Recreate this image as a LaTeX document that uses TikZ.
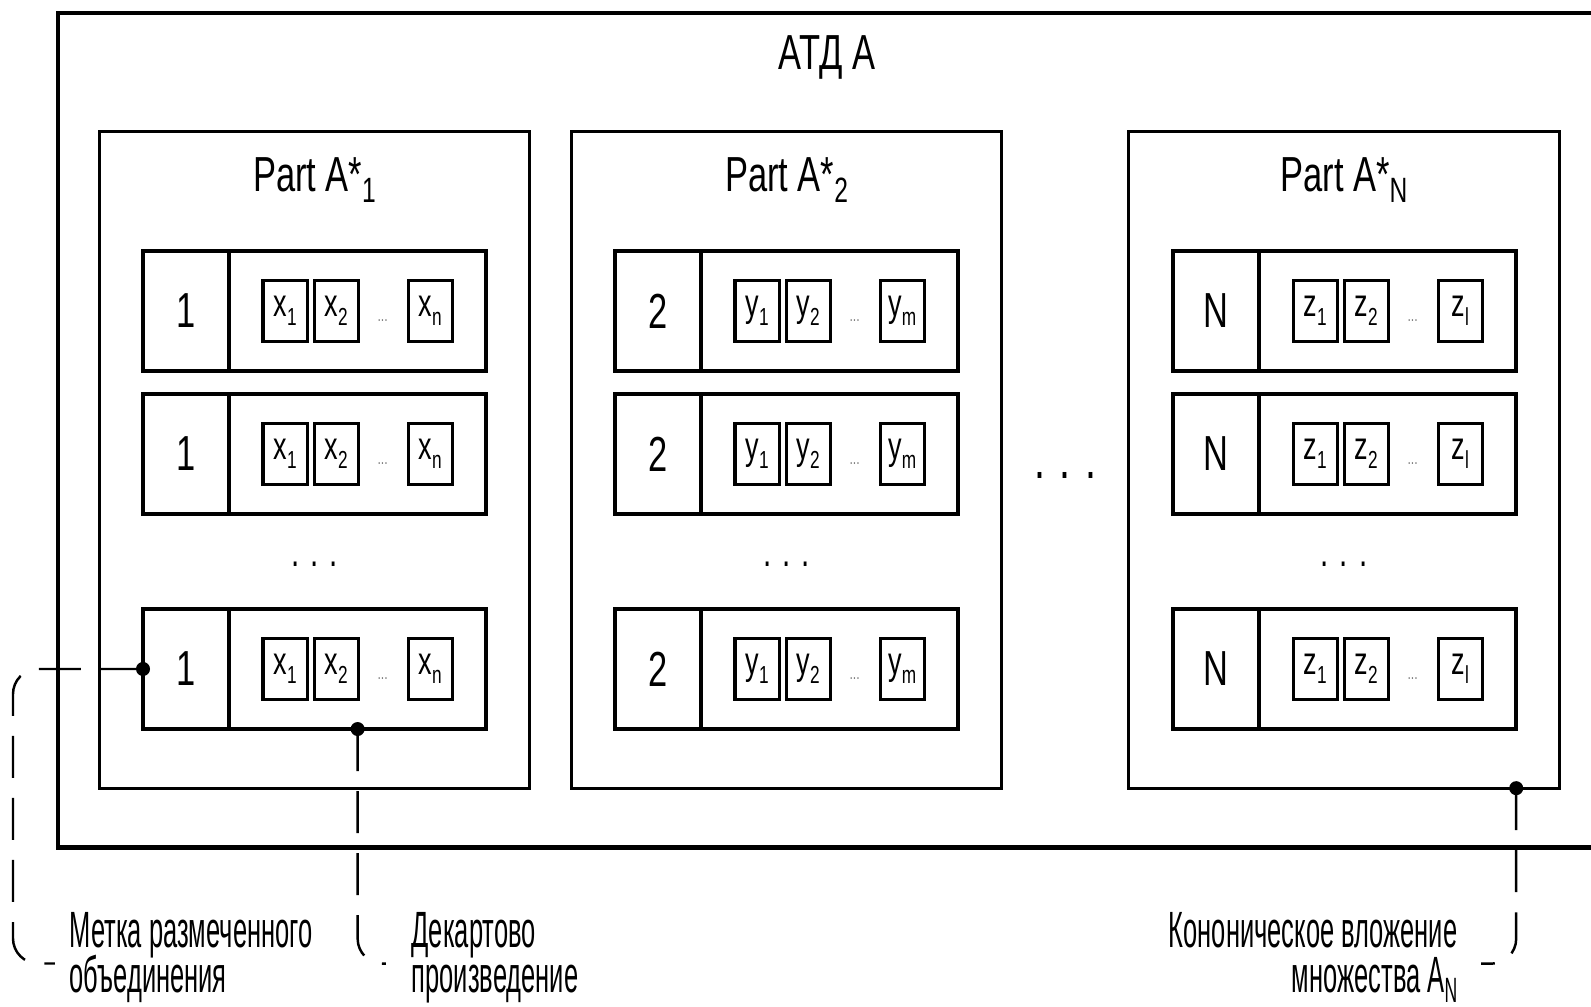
\documentclass[tikz,border=0pt]{standalone}
\usepackage{fontspec}
\setmainfont[FakeStretch=0.7]{Liberation Sans}
\newfontfamily\narrowfont[FakeStretch=0.5]{Liberation Sans}
\usepackage{tikz}
\usetikzlibrary{positioning}
\def\sublow#1{\raisebox{-3pt}{\fontsize{10}{10}\selectfont #1}}
\def\elemlbl#1#2{#1\raisebox{-2.5pt}{\fontsize{7}{7}\selectfont #2}}
\def\remarkfont{\narrowfont\fontsize{14.5}{12.6}\selectfont\lineskiplimit=-20pt\relax}
\tikzstyle{outerbox}=[draw,line width=1.2pt,inner sep=0,outer sep=0]
\tikzstyle{partbox}=[draw,line width=0.8pt,minimum width=4.30cm,minimum height=6.56cm,inner sep=0,outer sep=0]
\tikzstyle{tagcell}=[draw,line width=1pt,minimum width=0.86cm,minimum height=1.20cm,inner sep=0,outer sep=0,font=\fontsize{14}{14}\selectfont]
\tikzstyle{tuplecell}=[draw,line width=1pt,minimum width=2.57cm,minimum height=1.20cm,inner sep=0,outer sep=0]
\tikzstyle{elembox}=[draw,line width=0.9pt,minimum width=0.44cm,minimum height=0.61cm,inner sep=0,outer sep=0,font=\fontsize{11}{11}\selectfont]
\tikzstyle{joint}=[circle,fill=black,minimum size=0.14cm,inner sep=0]
\tikzstyle{leader}=[line width=0.7pt,dash pattern=on 0.42cm off 0.2cm,rounded corners=0.25cm]
\tikzstyle{remark}=[inner sep=0,font=\remarkfont]
\tikzstyle{heading}=[font=\fontsize{14}{14}\selectfont,inner sep=0,anchor=base]
\tikzstyle{rowdots}=[font=\fontsize{12}{12}\selectfont,inner sep=0,anchor=base]
% one tuple of a part: name, west point, tag, letter, last index
\def\tuplerow#1#2#3#4#5{
  \node[tagcell,anchor=west] (#1t) at (#2) {#3};
  \node[tuplecell,anchor=west] (#1v) at (#1t.east) {};
  \node[elembox,anchor=west] (#1a) at ([xshift=0.34cm]#1v.west) {\elemlbl{#4}{1}};
  \node[elembox,right=0.07cm of #1a] (#1b) {\elemlbl{#4}{2}};
  \node[font=\fontsize{5}{5}\selectfont,text=gray,inner sep=0] (#1s) at ([xshift=1.535cm,yshift=-0.1cm]#1v.west) {...};
  \node[elembox,anchor=west] (#1c) at ([xshift=1.79cm]#1v.west) {\elemlbl{#4}{#5}};
}
\begin{document}
\begin{tikzpicture}[x=0.01cm,y=-0.01cm]
  \useasboundingbox (0,0) rectangle (1591,1007);
  \node[outerbox,anchor=north west,minimum width=16cm,minimum height=8.34cm] (atd) at (58,13) {};
  \node[heading] (atdtitle) at (827,70) {АТД А};
  \node[partbox] (p1) at (314.5,460) {};
  \node[partbox] (p2) at (786.5,460) {};
  \node[partbox] (pN) at (1344,460) {};
  \node[heading] (p1title) at ([yshift=-0.60cm]p1.north) {Part A*\sublow{1}};
  \node[heading] (p2title) at ([yshift=-0.60cm]p2.north) {Part A*\sublow{2}};
  \node[heading] (pNtitle) at ([yshift=-0.60cm]pN.north) {Part A*\sublow{N}};
  \tuplerow{p1r1}{143,311}{1}{x}{n}
  \tuplerow{p1r2}{143,454}{1}{x}{n}
  \tuplerow{p1r3}{143,669}{1}{x}{n}
  \tuplerow{p2r1}{615,311}{2}{y}{m}
  \tuplerow{p2r2}{615,454}{2}{y}{m}
  \tuplerow{p2r3}{615,669}{2}{y}{m}
  \tuplerow{pNr1}{1173,311}{N}{z}{l}
  \tuplerow{pNr2}{1173,454}{N}{z}{l}
  \tuplerow{pNr3}{1173,669}{N}{z}{l}
  \node[rowdots] (p1dots) at (314.5,567) {. . .};
  \node[rowdots] (p2dots) at (786.5,567) {. . .};
  \node[rowdots] (pNdots) at (1344,567) {. . .};
  \node[font=\fontsize{16}{16}\selectfont,inner sep=0,anchor=base] (gapdots) at (1065,479) {. . .};
  % joints and leaders to the notes
  \node[joint] (tagjoint) at (p1r3t.west) {};
  \node[joint] (prodjoint) at (p1r3v.south) {};
  \node[joint] (embjoint) at (pN.south -| pNr3v.east) {};
  \node[remark,anchor=north west,align=left] (tagnote) at (69,912) {Метка размеченного\\объединения};
  \node[remark,anchor=north west,align=left] (prodnote) at (411,912) {Декартово\\произведение};
  \node[remark,anchor=north east,align=right] (embnote) at (1458,912) {Кононическое вложение\\множества A\sublow{N}};
  \draw[leader] (tagjoint.center) -- ++(-130,0) |- ([xshift=-0.14cm,yshift=-0.06cm]tagnote.west);
  \draw[leader] (prodjoint.center) |- ([xshift=-0.25cm,yshift=-0.06cm]prodnote.west);
  \draw[leader] (embjoint.center) |- ([xshift=0.23cm,yshift=-0.06cm]embnote.east);
\end{tikzpicture}
\end{document}
